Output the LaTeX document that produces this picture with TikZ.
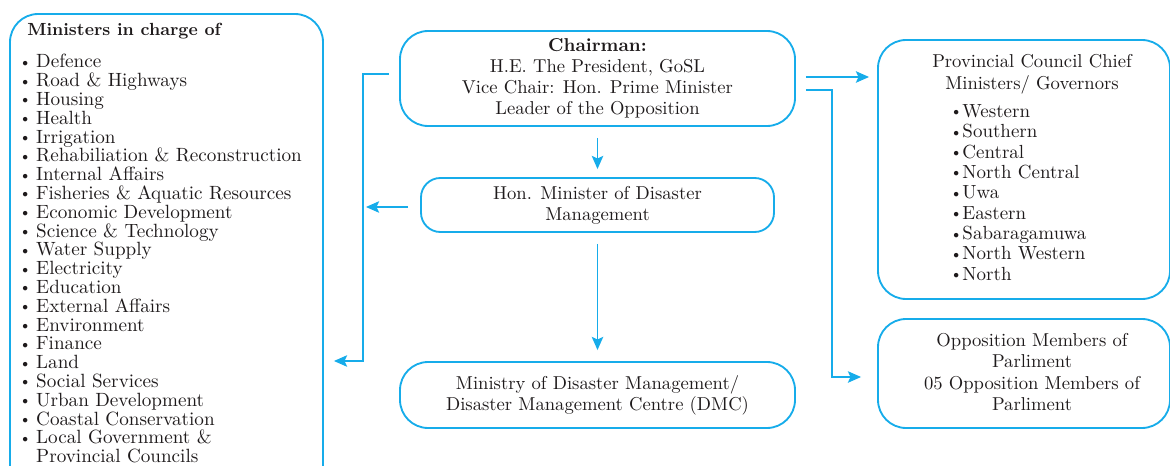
\documentclass[tikz,border=0pt]{standalone}
\usetikzlibrary{arrows.meta}
\definecolor{dmcblue}{RGB}{22,172,234}
\definecolor{txtdark}{RGB}{30,26,27}
\newcommand{\bul}{\makebox[7.9pt][l]{\raisebox{0.9pt}{\scalebox{0.6}{$\bullet$}}}}
\newcommand{\sbul}{\makebox[5.2pt][l]{\raisebox{0.9pt}{\scalebox{0.6}{$\bullet$}}}}
\begin{document}
\begin{tikzpicture}[x=0.02cm,y=-0.02cm,
    box/.style={draw=dmcblue,line width=1.05pt,rounded corners=16pt,inner sep=0pt,
      align=center,text=txtdark,font=\fontsize{10.6}{11.9}\selectfont},
    txt/.style={inner sep=0pt,text=txtdark,font=\fontsize{10.6}{11.9}\selectfont},
    link/.style={dmcblue,line width=1.05pt,-{Stealth[length=7.5pt,width=6.5pt,inset=1.5pt]}}]
    \def\px{0.02cm}
    \useasboundingbox (0,0) rectangle (1170,466);
    \clip (0,0) rectangle (1170,466);
    % boxes
    \node[box,minimum width=313*\px,minimum height=490*\px] (mins) at (166.5,259) {};
    \node[box,minimum width=395*\px,minimum height=95*\px] (chair) at (597.5,78.5)
        {\textbf{Chairman:}\\H.E. The President, GoSL\\Vice Chair: Hon. Prime Minister\\Leader of the Opposition};
    \node[box,rounded corners=11pt,minimum width=353*\px,minimum height=54*\px] (hon) at (597.5,205)
        {Hon. Minister of Disaster\\Management};
    \node[box,minimum width=395*\px,minimum height=66*\px] (dmc) at (597.5,395)
        {Ministry of Disaster Management/\\Disaster Management Centre (DMC)};
    \node[box,minimum width=292*\px,minimum height=259*\px] (prov) at (1024,169.5) {};
    \node[box,minimum width=292*\px,minimum height=109*\px] (opp) at (1024,373.5) {};
    % left list
    \node[txt,anchor=west,font=\fontsize{10}{12}\bfseries] (minstitle) at (27,31) {Ministers in charge of};
    \node[txt,anchor=north west,align=left,font=\fontsize{10.9}{10.7}\selectfont] (minslist) at (22,54)
        {\bul Defence\\\bul Road \& Highways\\\bul Housing\\\bul Health\\\bul Irrigation\\
         \bul Rehabiliation \& Reconstruction\\\bul Internal Affairs\\\bul Fisheries \& Aquatic Resources\\
         \bul Economic Development\\\bul Science \& Technology\\\bul Water Supply\\\bul Electricity\\
         \bul Education\\\bul External Affairs\\\bul Environment\\\bul Finance\\\bul Land\\
         \bul Social Services\\\bul Urban Development\\\bul Coastal Conservation\\
         \bul Local Government \&\\\hspace*{7.9pt}Provincial Councils};
    % right texts
    \node[txt,align=center,font=\fontsize{10.6}{12.5}\selectfont] (provtitle) at (1032,74)
        {Provincial Council Chief\\Ministers/ Governors};
    \node[txt,anchor=north west,align=left,font=\fontsize{10.8}{11.6}\selectfont] (provlist) at (953,104)
        {\sbul Western\\\sbul Southern\\\sbul Central\\\sbul North Central\\\sbul Uwa\\
         \sbul Eastern\\\sbul Sabaragamuwa\\\sbul North Western\\\sbul North};
    \node[txt,align=center,font=\fontsize{10.6}{12.1}\selectfont] (opptext) at (1032,372)
        {Opposition Members of\\Parliment\\05 Opposition Members of\\Parliment};
    % connectors
    \draw[link] ([shift={(-10,-4.5)}]chair.west) -| ([shift={(39,102)}]mins.east) -- ([shift={(10,102)}]mins.east);
    \draw[link] ([shift={(-12,2)}]hon.west) -- ([shift={(42,-52)}]mins.east);
    \draw[link] ([shift={(0,11)}]chair.south) -- ([shift={(0,-8)}]hon.north);
    \draw[link] ([shift={(0,11)}]hon.south) -- ([shift={(0,-11)}]dmc.north);
    \draw[link] ([shift={(10,-1.5)}]chair.east) -- ([shift={(-8,-92.5)}]prov.west);
    \draw[link] ([shift={(10,11.5)}]chair.east) -| ([shift={(-45,3.5)}]opp.west) -- ([shift={(-16,3.5)}]opp.west);
\end{tikzpicture}
\end{document}
